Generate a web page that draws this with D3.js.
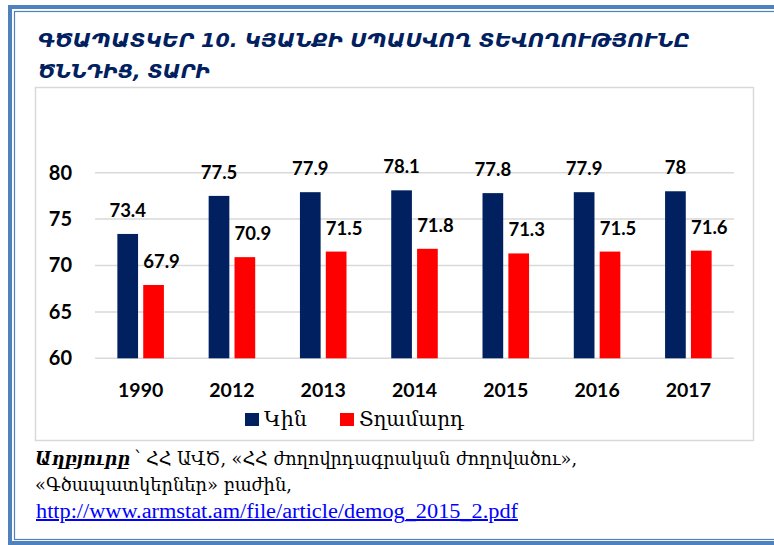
<!DOCTYPE html>
<html>
<head>
<meta charset="utf-8">
<script src="https://cdn.jsdelivr.net/npm/d3@7"></script>
<style>
  html, body { margin: 0; padding: 0; background: #ffffff; }
  svg { display: block; }
</style>
</head>
<body>
<svg id="chart" width="774" height="545"></svg>
<script>
// ---- data ----
const years = ["1990", "2012", "2013", "2014", "2015", "2016", "2017"];
const women = [73.4, 77.5, 77.9, 78.1, 77.8, 77.9, 78];
const men = [67.9, 70.9, 71.5, 71.8, 71.3, 71.5, 71.6];
const seriesNames = ["Կին", "Տղամարդ"];
const seriesColors = ["#002060", "#ff0000"];
const yTicks = [60, 65, 70, 75, 80];
const titleLines = ["ԳԾԱՊԱՏԿԵՐ  10.  ԿՅԱՆՔԻ ՍՊԱՍՎՈՂ ՏԵՎՈՂՈՒԹՅՈՒՆԸ", "ԾՆՆԴԻՑ, ՏԱՐԻ"];
const sourceLabel = "Աղբյուրը";
const sourceLine1 = "՝ ՀՀ ԱՎԾ, «ՀՀ ժողովրդագրական ժողովածու»,";
const sourceLine2 = "«Գծապատկերներ» բաժին,";
const sourceLink = "http://www.armstat.am/file/article/demog_2015_2.pdf";

const svg = d3.select("#chart");

// ---- outer double frame ----
svg.append("rect").attr("x", 10).attr("y", 7).attr("width", 800).attr("height", 536)
  .attr("fill", "none").attr("stroke", "#4f81bd").attr("stroke-width", 4);
svg.append("rect").attr("x", 14.5).attr("y", 11.5).attr("width", 800).attr("height", 528)
  .attr("fill", "none").attr("stroke", "#4f81bd").attr("stroke-width", 1.2);

// ---- title ----
const titleWidths = [652, 172];
svg.selectAll("text.title").data(titleLines).join("text")
  .attr("class", "title")
  .attr("x", 38).attr("y", (d, i) => 47 + i * 31)
  .attr("textLength", (d, i) => titleWidths[i])
  .attr("lengthAdjust", "spacingAndGlyphs")
  .attr("font-family", "DejaVu Sans")
  .attr("font-style", "italic")
  .attr("font-weight", "bold")
  .attr("font-size", 20)
  .attr("fill", "#002060")
  .text(d => d);

// ---- chart box ----
svg.append("rect").attr("x", 35.5).attr("y", 87.5).attr("width", 718).attr("height", 353)
  .attr("fill", "#ffffff").attr("stroke", "#d9d9d9").attr("stroke-width", 1.5);

// ---- scales ----
const y = d3.scaleLinear().domain([60, 80]).range([358.3, 172.7]);
const x0 = d3.scaleBand().domain(years).range([95, 734]).paddingInner(0.49).paddingOuter(0.245);
const x1 = d3.scaleBand().domain([0, 1]).range([0, x0.bandwidth()]).paddingInner(0.2);

// gridlines
svg.append("g").selectAll("line").data(yTicks).join("line")
  .attr("x1", 95).attr("x2", 734)
  .attr("y1", d => y(d)).attr("y2", d => y(d))
  .attr("stroke", "#d9d9d9").attr("stroke-width", 1.5);

// y axis labels
const yAxis = d3.axisLeft(y).tickValues(yTicks).tickSize(0).tickPadding(0).tickFormat(d3.format("d"));
const gy = svg.append("g").attr("transform", "translate(72,0)").call(yAxis);
gy.select(".domain").remove();
gy.selectAll("text")
  .attr("font-family", "Lato").attr("font-weight", "bold").attr("font-size", 20)
  .attr("fill", "#000");

// x axis labels
const xAxis = d3.axisBottom(x0).tickSize(0).tickPadding(0);
const gx = svg.append("g").attr("transform", "translate(0,383)").call(xAxis);
gx.select(".domain").remove();
gx.selectAll("text")
  .attr("font-family", "Lato").attr("font-weight", "bold").attr("font-size", 19.5)
  .attr("fill", "#000");

// bars
const series = [women, men];
series.forEach((vals, si) => {
  const g = svg.append("g");
  g.selectAll("rect").data(vals).join("rect")
    .attr("x", (d, i) => x0(years[i]) + x1(si))
    .attr("y", d => y(d))
    .attr("width", x1.bandwidth())
    .attr("height", d => y(60) - y(d))
    .attr("fill", seriesColors[si]);
  g.selectAll("text").data(vals).join("text")
    .attr("x", (d, i) => x0(years[i]) + x1(si) + x1.bandwidth() / 2 + (si === 1 ? 8 : 0))
    .attr("y", d => y(d) - 17)
    .attr("text-anchor", "middle")
    .attr("font-family", "Lato").attr("font-weight", "bold").attr("font-size", 18.5)
    .attr("fill", "#000")
    .text(d => String(d));
});

// legend
const legendX = [245, 340];
const legendW = [43, 105];
seriesNames.forEach((name, i) => {
  svg.append("rect").attr("x", legendX[i]).attr("y", 413).attr("width", 14).attr("height", 13)
    .attr("fill", seriesColors[i]);
  svg.append("text").attr("x", legendX[i] + 19).attr("y", 426)
    .attr("font-family", "DejaVu Serif").attr("font-size", 20)
    .attr("textLength", legendW[i]).attr("lengthAdjust", "spacingAndGlyphs")
    .attr("fill", "#000").text(name);
});

// source
svg.append("text").attr("x", 35).attr("y", 465)
  .attr("font-family", "DejaVu Serif").attr("font-style", "italic").attr("font-weight", "bold")
  .attr("font-size", 18).attr("textLength", 95).attr("lengthAdjust", "spacingAndGlyphs")
  .attr("fill", "#000").text(sourceLabel);
svg.append("text").attr("x", 134).attr("y", 465)
  .attr("font-family", "DejaVu Serif").attr("font-size", 18)
  .attr("textLength", 443).attr("lengthAdjust", "spacingAndGlyphs")
  .attr("fill", "#000").text(sourceLine1);
svg.append("text").attr("x", 35).attr("y", 491)
  .attr("font-family", "DejaVu Serif").attr("font-size", 18)
  .attr("textLength", 257).attr("lengthAdjust", "spacingAndGlyphs")
  .attr("fill", "#000").text(sourceLine2);
svg.append("text").attr("x", 36).attr("y", 518)
  .attr("font-family", "Liberation Serif").attr("font-size", 20)
  .attr("textLength", 482).attr("lengthAdjust", "spacingAndGlyphs")
  .attr("text-decoration", "underline")
  .attr("fill", "#0000ff").text(sourceLink);
</script>
</body>
</html>
